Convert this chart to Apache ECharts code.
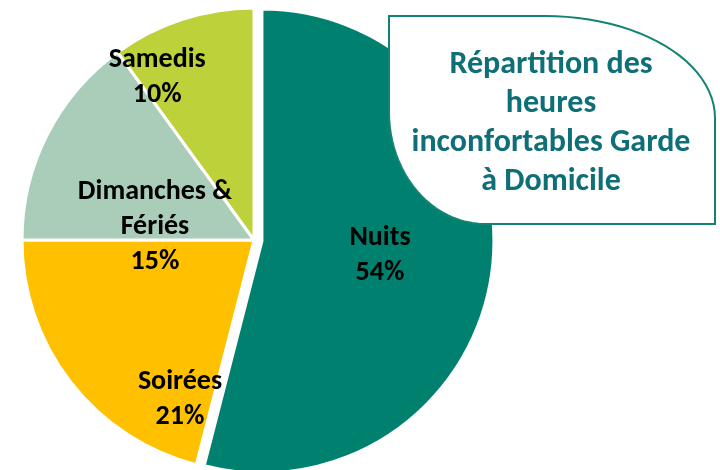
<!DOCTYPE html>
<html>
<head>
<meta charset="utf-8">
<script src="https://cdn.jsdelivr.net/npm/echarts@6/dist/echarts.min.js"></script>
<style>
  html, body { margin: 0; padding: 0; background: #fff; }
  #chart { width: 720px; height: 470px; }
</style>
</head>
<body>
<div id="chart"></div>
<script>
// slices clockwise from 12 o'clock
const categories = ['Nuits', 'Soirées', 'Dimanches & Fériés', 'Samedis'];
const shares = [54, 21, 15, 10];
const titleLines = ['Répartition des', 'heures', 'inconfortables Garde', 'à Domicile'];

const sliceColors = ['#00806f', '#ffc000', '#a9cdb9', '#bdd23a'];
// nudges for the inner labels (px), they are not at mid radius in the original
const labelNudge = [[0, 0], [20, 87], [7, 41], [-60, -49]];

var myChart = echarts.init(document.getElementById('chart'));

// title box outline: square top-left / bottom-right, oval top-right / bottom-left
function ovalCorner(cx, cy, rx, ry, a0, a1) {
  var pts = [];
  for (var k = 0; k <= 24; k++) {
    var a = (a0 + (a1 - a0) * k / 24) * Math.PI / 180;
    pts.push([cx + rx * Math.cos(a), cy + ry * Math.sin(a)]);
  }
  return pts;
}
var boxPoints = [[389, 16]]
  .concat(ovalCorner(545, 118, 170, 102, -90, 0))
  .concat([[715, 224]])
  .concat(ovalCorner(485, 112, 96, 112, 90, 180));

var option = {
  animation: false,
  series: [
    {
      type: 'pie',
      center: [254, 240],
      radius: 232,
      startAngle: 90,
      clockwise: true,
      selectedMode: 'single',
      selectedOffset: 8,
      itemStyle: {
        borderColor: '#fff',
        borderWidth: 3
      },
      label: {
        show: true,
        position: 'inner',
        color: '#000',
        fontFamily: 'Carlito, Lato, sans-serif',
        fontWeight: 'bold',
        fontSize: 28,
        lineHeight: 35,
        formatter: function (p) {
          return p.name.replace('& ', '&\n') + '\n' + p.value + '%';
        }
      },
      labelLine: { show: false },
      labelLayout: function (p) {
        return { dx: labelNudge[p.dataIndex][0], dy: labelNudge[p.dataIndex][1] };
      },
      emphasis: { disabled: true },
      data: categories.map(function (name, i) {
        return {
          name: name,
          value: shares[i],
          selected: i === 0,
          itemStyle: { color: sliceColors[i] }
        };
      })
    }
  ],
  graphic: [
    {
      type: 'polygon',
      z: 10,
      shape: { points: boxPoints },
      style: { fill: '#fff', stroke: '#138374', lineWidth: 2 }
    },
    {
      type: 'text',
      z: 11,
      x: 551,
      y: 123,
      style: {
        text: titleLines.join('\n'),
        fill: '#0f6f78',
        font: 'bold 32px Carlito, Lato, sans-serif',
        lineHeight: 39,
        align: 'center',
        verticalAlign: 'middle'
      }
    }
  ]
};

myChart.setOption(option);
window.onresize = myChart.resize;
</script>
</body>
</html>
